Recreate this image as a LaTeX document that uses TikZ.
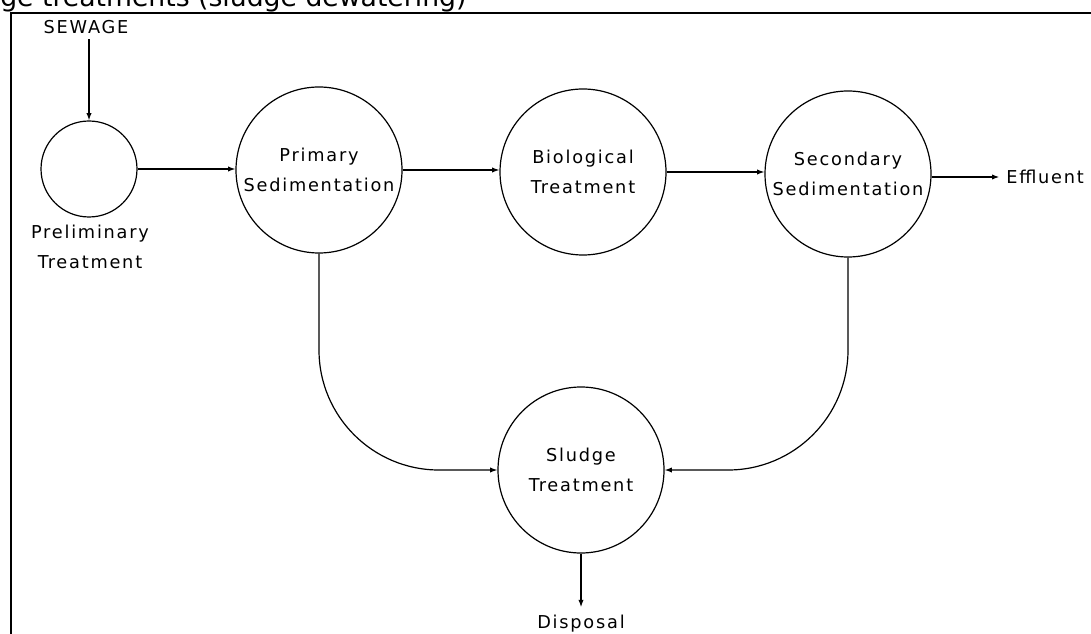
\documentclass[tikz,border=0pt]{standalone}
\usepackage{fontspec}
\setmainfont{DejaVu Sans}
\newfontfamily\labfont[LetterSpace=10]{DejaVu Sans}
\usetikzlibrary{arrows.meta}
\begin{document}
\begin{tikzpicture}[x=0.75pt,y=-0.75pt,
  stage/.style={circle,draw,line width=0.9pt,minimum size=124.5pt,inner sep=0pt,align=center,
    font=\labfont\fontsize{13.3}{22.5}\selectfont},
  lab/.style={inner sep=0pt,align=center,font=\labfont\fontsize{13.3}{22.5}\selectfont},
  flow/.style={line width=0.9pt,-{Latex[length=5.5pt,width=4pt]}},
  frameline/.style={line width=1.8pt}]
\useasboundingbox (0,0) rectangle (1091,634);
\clip (0,0) rectangle (1091,634);
% title (clipped at top, as in the reference)
\node[anchor=base west,inner sep=0pt,font=\fontsize{20}{24}\selectfont] (title) at (0,7) {ge treatments (sludge dewatering)};
% frame
\draw[frameline] (11,640) -- (11,13) -- (1095,13);
% nodes
\node[lab] (sewage) at (86,27) {SEWAGE};
\node[stage,minimum size=72pt] (prel) at (89,169) {};
\node[lab] (preltxt) at (90,247) {Preliminary\\Treatment};
\node[stage] (prim) at (319,170) {Primary\\Sedimentation};
\node[stage] (bio) at (583,172) {Biological\\Treatment};
\node[stage] (sec) at (848,174) {Secondary\\Sedimentation};
\node[lab,anchor=west] (eff) at (1006,177) {Effluent};
\node[stage] (sludge) at (581,470) {Sludge\\Treatment};
\node[lab] (disp) at (581,624) {Disposal};
% connectors
\draw[flow,shorten <=4pt] (prel.north |- sewage.south) -- (prel.north);
\draw[flow] (prel.east) -- (prel.east -| prim.west);
\draw[flow] (prim.east) -- (prim.east -| bio.west);
\draw[flow] (bio.east) -- (bio.east -| sec.west);
\draw[flow,shorten >=5pt] (sec.east |- eff.west) -- (eff.west);
\draw[flow,rounded corners=90pt] (prim.south) |- (sludge.west);
\draw[flow,rounded corners=90pt] (sec.south) |- (sludge.east);
\draw[flow,shorten >=6pt] (sludge.south) -- (disp.north);
\end{tikzpicture}
\end{document}
